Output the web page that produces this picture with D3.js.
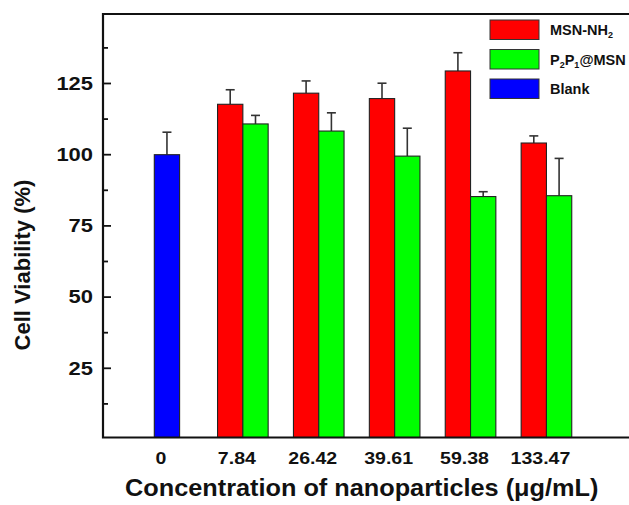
<!DOCTYPE html>
<html>
<head>
<meta charset="utf-8">
<script src="https://cdn.jsdelivr.net/npm/d3@7/dist/d3.min.js"></script>
<style>
  html, body { margin: 0; padding: 0; background: #fff; }
  svg { display: block; }
  text { font-family: "Liberation Sans", Arial, sans-serif; font-weight: bold; fill: #111; }
</style>
</head>
<body>
<svg id="chart" width="629" height="505"></svg>
<script>
// Concentrations (µg/mL) along the x axis
const categories = ["0", "7.84", "26.42", "39.61", "59.38", "133.47"];
// Cell viability (%) and upper error for each series
const blankValues = [100.0, null, null, null, null, null];
const blankErrors = [7.9, null, null, null, null, null];
const msnNh2Values = [null, 117.7, 121.6, 119.7, 129.4, 104.1];
const msnNh2Errors = [null, 5.1, 4.3, 5.4, 6.4, 2.5];
const p2p1Values = [null, 110.8, 108.3, 99.5, 85.3, 85.6];
const p2p1Errors = [null, 3.0, 6.4, 9.8, 1.7, 13.1];
const majorTicks = [25, 50, 75, 100, 125];
const minorTicks = [12.5, 37.5, 62.5, 87.5, 112.5, 137.5];

const series = [
  { name: "MSN-NH2", color: "#ff0000", values: msnNh2Values, errors: msnNh2Errors, offset: -1 },
  { name: "P2P1@MSN", color: "#00ff00", values: p2p1Values, errors: p2p1Errors, offset: 0 },
  { name: "Blank", color: "#0000ff", values: blankValues, errors: blankErrors, offset: -0.5 }
];

const svg = d3.select("#chart");
const frame = { left: 103, top: 14, bottom: 437.5, right: 640 };
const barW = 25.3;

const x = d3.scaleBand().domain(categories).range([129, 584.4]).padding(0);
const y = d3.scaleLinear().domain([0.7, 149.4]).range([frame.bottom, frame.top]);

// bars and error bars
const marks = svg.append("g");
series.forEach(s => {
  const rows = categories.map((c, i) => ({ c, v: s.values[i], e: s.errors[i] })).filter(d => d.v != null);
  const cx = d => x(d.c) + x.bandwidth() / 2 + s.offset * barW;
  // error bars (upper half only)
  const eb = marks.append("g").attr("stroke", "#333").attr("stroke-width", 1.6).attr("fill", "none");
  rows.forEach(d => {
    const mx = cx(d) + barW / 2;
    eb.append("line").attr("x1", mx).attr("x2", mx).attr("y1", y(d.v)).attr("y2", y(d.v + d.e));
    eb.append("line").attr("x1", mx - 4.5).attr("x2", mx + 4.5).attr("y1", y(d.v + d.e)).attr("y2", y(d.v + d.e));
  });
  marks.append("g").selectAll("rect").data(rows).join("rect")
    .attr("x", cx)
    .attr("y", d => y(d.v))
    .attr("width", barW)
    .attr("height", d => frame.bottom - y(d.v))
    .attr("fill", s.color)
    .attr("stroke", "#222")
    .attr("stroke-width", 1.1);
});

// frame (right side lies past the canvas edge)
const fr = svg.append("g").attr("stroke", "#111").attr("stroke-width", 2.2).attr("fill", "none");
fr.append("path").attr("d", `M${frame.right},${frame.top}H${frame.left}V${frame.bottom}H${frame.right}`);

// inward ticks on the left axis
const tk = svg.append("g").attr("stroke", "#111").attr("stroke-width", 1.8);
majorTicks.forEach(t => tk.append("line").attr("x1", frame.left).attr("x2", frame.left + 8).attr("y1", y(t)).attr("y2", y(t)));
minorTicks.forEach(t => tk.append("line").attr("x1", frame.left).attr("x2", frame.left + 5).attr("y1", y(t)).attr("y2", y(t)));

// horizontally widened text helper
function wideText(g, tx, ty, sx, str, size, anchor) {
  return g.append("text")
    .attr("transform", `translate(${tx},${ty}) scale(${sx},1)`)
    .attr("font-size", size)
    .attr("text-anchor", anchor)
    .text(str);
}

const labels = svg.append("g");
majorTicks.forEach(t => wideText(labels, 93, y(t) + 6.3, 1.22, t, 18, "end"));
categories.forEach(c => wideText(labels, x(c) + x.bandwidth() / 2 - 6, 464, 1.15, c, 17, "middle"));

// axis titles
wideText(labels, 361.7, 496, 1.1, "Concentration of nanoparticles (\u03bcg/mL)", 23, "middle");
labels.append("text")
  .attr("transform", "translate(30,265) rotate(-90)")
  .attr("font-size", 22)
  .attr("text-anchor", "middle")
  .text("Cell Viability (%)");

// legend
const lg = svg.append("g");
const legendRows = [
  { color: "#ff0000", parts: [["MSN-NH", false], ["2", true]] },
  { color: "#00ff00", parts: [["P", false], ["2", true], ["P", false], ["1", true], ["@MSN", false]] },
  { color: "#0000ff", parts: [["Blank", false]] }
];
legendRows.forEach((r, i) => {
  const top = 20 + i * 29.5;
  lg.append("rect").attr("x", 490).attr("y", top).attr("width", 49).attr("height", 19.5)
    .attr("fill", r.color).attr("stroke", "#333").attr("stroke-width", 1);
  const t = lg.append("text")
    .attr("transform", `translate(550,${top + 15}) scale(1.0,1)`)
    .attr("font-size", 14.5);
  r.parts.forEach(([s, sub], j) => {
    const sp = t.append("tspan").text(s);
    if (sub) sp.attr("font-size", 9).attr("dy", 3);
    else sp.attr("dy", j > 0 ? -3 : 0);
  });
});
</script>
</body>
</html>
